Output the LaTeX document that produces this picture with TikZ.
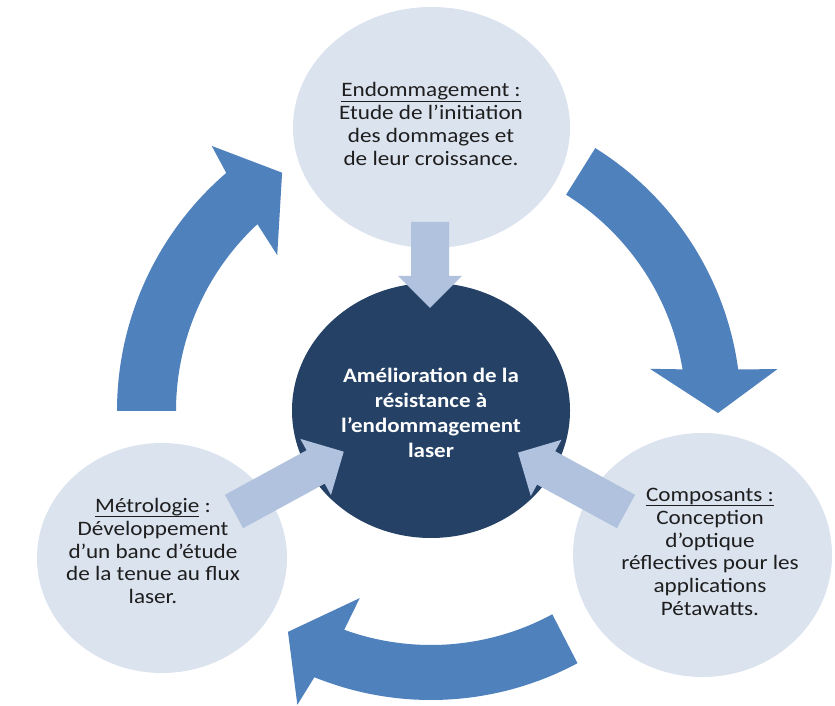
\documentclass[tikz,border=0pt]{standalone}
\usepackage{fontspec}
\setmainfont{Carlito}
\usetikzlibrary{shapes.geometric}
\definecolor{paleblue}{HTML}{DBE3EF}
\definecolor{darkblue}{HTML}{254266}
\definecolor{midblue}{HTML}{4F81BD}
\definecolor{lightblue}{HTML}{B1C2DE}
\definecolor{txt}{HTML}{1E1E1E}
\newcommand\ulin[1]{\setbox0=\hbox{#1}\makebox[0pt][l]{\rule[-4.6pt]{\wd0}{0.9pt}}\box0\relax}
\tikzset{
  bubble/.style={ellipse, fill=paleblue, draw=none, inner sep=0pt},
  hub/.style={ellipse, fill=darkblue, draw=none, inner sep=0pt},
  bubbletext/.style={align=center, text=txt, font=\fontsize{20.5}{22.8}\selectfont, inner sep=0pt, xscale=1.13, transform shape},
  hubtext/.style={align=center, text=white, font=\fontsize{20.5}{25}\selectfont\bfseries, inner sep=0pt, xscale=1.12, transform shape},
  bigarrow/.style={fill=midblue},
  smallarrow/.style={fill=lightblue}
}
\begin{document}
\begin{tikzpicture}[x=1pt,y=1pt]
\useasboundingbox (0,0) rectangle (835,706);
\fill[white] (0,0) rectangle (835,706);
% big cycle arrows
\fill[bigarrow, shift={(431,295)}] (58:310pt) arc[start angle=58, end angle=7.7, radius=310pt] -- (6.9:349pt) -- (-0.4:287pt) -- (10.9:223pt) -- (9.4:255pt) arc[start angle=9.4, end angle=58, radius=255pt] -- cycle;
\fill[bigarrow, shift={(431,295)}] (180:314pt) arc[start angle=180, end angle=130.7, radius=314pt] -- (129.6:344pt) -- (122:281pt) -- (134.6:219pt) -- (132.9:255pt) arc[start angle=132.9, end angle=180, radius=255pt] -- cycle;
\fill[bigarrow, shift={(431,316)}] (-61.8:310pt) arc[start angle=-61.8, end angle=-112.1, radius=310pt] -- (-113:342pt) -- (-120.6:281pt) -- (-108.9:220pt) -- (-109.9:255pt) arc[start angle=-109.9, end angle=-61.6, radius=255pt] -- cycle;
% circles
\node[bubble, minimum width=277pt, minimum height=241pt] (top) at (431.5,578.5) {};
\node[bubble, minimum width=250pt, minimum height=230pt] (left) at (162,148) {};
\node[bubble, minimum width=259pt, minimum height=244pt] (right) at (702.5,151) {};
\node[hub, minimum width=278pt, minimum height=255pt] (hub) at (431,295.5) {};
% small arrows
\fill[smallarrow, shift={(430,484)}, rotate=-90] (0,-19) -- (54,-19) -- (54,-32) -- (86,0) -- (54,32) -- (54,19) -- (0,19) -- cycle;
\fill[smallarrow, shift={(234,194.5)}, rotate=28.6] (0,-19) -- (93,-19) -- (93,-32) -- (125,0) -- (93,32) -- (93,19) -- (0,19) -- cycle;
\fill[smallarrow, shift={(626,194.5)}, rotate=151.4] (0,-19) -- (91,-19) -- (91,-32) -- (123,0) -- (91,32) -- (91,19) -- (0,19) -- cycle;
% texts
\node[bubbletext] (toptext) at (431,582) {\ulin{Endommagement :}\\Etude de l’initiation\\des dommages et\\de leur croissance.};
\node[bubbletext] (lefttext) at (153,155) {\ulin{Métrologie} :\\Développement\\d’un banc d’étude\\de la tenue au flux\\laser.};
\node[bubbletext] (righttext) at (710,154) {\ulin{Composants :}\\Conception\\d’optique\\réflectives pour les\\applications\\Pétawatts.};
\node[hubtext] (hubtext) at (431,293) {Amélioration de la\\résistance à\\l’endommagement\\laser};
\end{tikzpicture}
\end{document}
